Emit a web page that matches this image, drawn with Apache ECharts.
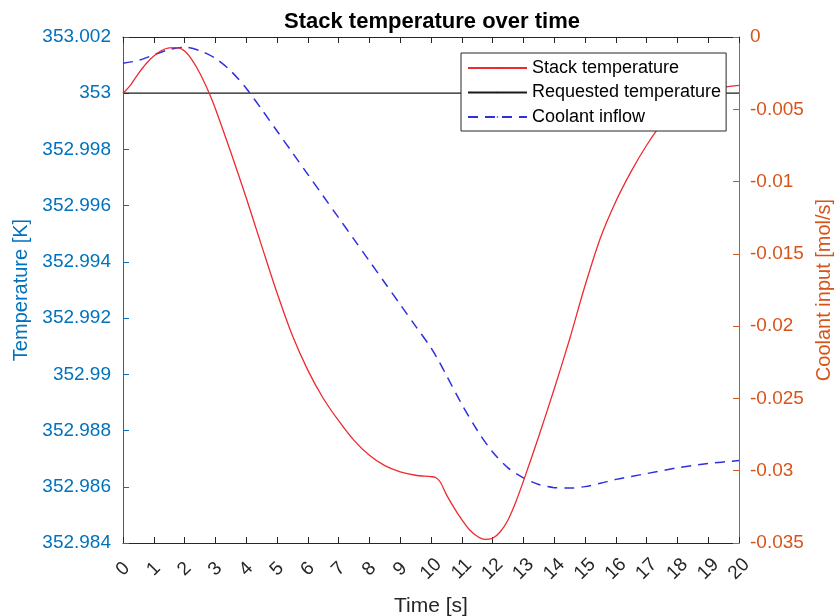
<!DOCTYPE html>
<html>
<head>
<meta charset="utf-8">
<script src="https://cdn.jsdelivr.net/npm/echarts@6/dist/echarts.min.js"></script>
<style>html,body{margin:0;padding:0;background:#fff;}#chart{width:840px;height:616px;}</style>
</head>
<body>
<div id="chart"></div>
<script>
// Time axis ticks
const xTicks = [0,1,2,3,4,5,6,7,8,9,10,11,12,13,14,15,16,17,18,19,20];

// Stack temperature [K]
const stackTime = [0,0.25,0.5,0.75,1,1.25,1.5,1.75,2,2.25,2.5,2.8,3,3.5,4,4.5,5,5.5,6,6.5,7,7.5,8,8.5,9,9.5,10,10.15,10.3,10.5,10.75,11,11.25,11.5,11.75,12,12.25,12.5,12.75,13,13.5,14,14.5,15,15.5,16,16.5,17,17.5,18,18.5,19,19.5,20];
const stackTemp = [353.0,353.0003,353.0007,353.00105,353.00132,353.00152,353.00161,353.00162,353.0015,353.00117,353.0007,353.0,352.99945,352.9979,352.99628,352.99458,352.9929,352.99138,352.99015,352.98915,352.98835,352.98765,352.98712,352.98675,352.98653,352.98641,352.98636,352.98633,352.98617,352.98572,352.98525,352.98483,352.98447,352.98424,352.98413,352.98417,352.9844,352.98482,352.98545,352.9862,352.9878,352.98948,352.99125,352.99315,352.99485,352.99615,352.99722,352.99815,352.99893,352.9995,352.99988,353.0001,353.00021,353.00028];

// Requested temperature [K]
const reqTime = [0,20];
const reqTemp = [353,353];

// Coolant inflow [mol/s]
const coolTime = [0,0.5,1,1.5,2,2.5,3,3.5,4,4.5,5,5.5,6,6.5,7,7.5,8,8.5,9,9.5,10,10.25,10.5,11,11.5,12,12.5,13,13.5,14,14.5,15,15.5,16,17,18,19,20];
const coolFlow = [-0.00182,-0.00162,-0.00124,-0.00087,-0.00071,-0.00095,-0.00148,-0.00235,-0.00355,-0.005,-0.0065,-0.008,-0.0095,-0.011,-0.0125,-0.014,-0.0155,-0.017,-0.0185,-0.02,-0.0215,-0.0224,-0.0234,-0.0254,-0.0272,-0.0287,-0.0298,-0.0305,-0.03095,-0.03117,-0.0312,-0.0311,-0.03087,-0.0306,-0.0302,-0.0298,-0.0295,-0.0293];

const FONT = '"Liberation Sans", Arial, Helvetica, sans-serif';
const BLUE = '#0072BD', ORANGE = '#D95319', DARK = '#262626';

const zip = (a, b) => a.map((v, i) => [v, b[i]]);
const fmt = v => String(parseFloat(Number(v).toFixed(4)));

const chart = echarts.init(document.getElementById('chart'), null, {renderer: 'canvas'});
chart.setOption({
  animation: false,
  backgroundColor: '#fff',
  textStyle: {fontFamily: FONT},
  title: {
    text: 'Stack temperature over time',
    left: 427, top: 6, textAlign: 'center',
    textStyle: {fontFamily: FONT, fontSize: 22, fontWeight: 'bold', color: '#000'}
  },
  grid: {left: 123, right: 101, top: 37, bottom: 73, containLabel: false, outerBoundsMode: 'none'},
  legend: {
    orient: 'vertical',
    left: 461, top: 53,
    padding: [6, 5, 5, 6],
    itemGap: 6.5,
    itemWidth: 59, itemHeight: 2,
    itemTextGap: 5,
    backgroundColor: '#fff',
    borderColor: DARK, borderWidth: 1, borderRadius: 0,
    textStyle: {fontFamily: FONT, fontSize: 18, color: '#000'},
    data: ['Stack temperature', 'Requested temperature', 'Coolant inflow']
  },
  xAxis: [{
    type: 'value', min: 0, max: 20, interval: 1,
    name: 'Time [s]', nameLocation: 'middle', nameGap: 53,
    nameTextStyle: {fontFamily: FONT, fontSize: 21, color: DARK},
    axisLine: {onZero: false, lineStyle: {color: DARK, width: 1}},
    axisTick: {inside: true, length: 6, lineStyle: {color: DARK}},
    axisLabel: {rotate: 45, margin: 26, align: 'center', verticalAlign: 'middle',
      fontFamily: FONT, fontSize: 19, color: DARK, formatter: v => String(v)},
    splitLine: {show: false}
  }, {
    type: 'value', min: 0, max: 20, interval: 1, position: 'top',
    axisLine: {show: true, onZero: false, lineStyle: {color: DARK, width: 1}},
    axisTick: {show: true, inside: true, length: 6, lineStyle: {color: DARK}},
    axisLabel: {show: false},
    splitLine: {show: false}
  }],
  yAxis: [{
    type: 'value', position: 'left', min: 352.984, max: 353.002, interval: 0.002,
    name: 'Temperature [K]', nameLocation: 'middle', nameGap: 83, nameRotate: 90,
    nameTextStyle: {fontFamily: FONT, fontSize: 20, color: BLUE},
    axisLine: {show: true, onZero: false, lineStyle: {color: BLUE, width: 1}},
    axisTick: {show: true, inside: true, length: 6, lineStyle: {color: BLUE}},
    axisLabel: {fontFamily: FONT, fontSize: 19, color: BLUE, margin: 12, formatter: fmt},
    splitLine: {show: false}
  }, {
    type: 'value', position: 'right', min: -0.035, max: 0, interval: 0.005,
    name: 'Coolant input [mol/s]', nameLocation: 'middle', nameGap: 61, nameRotate: 90,
    nameTextStyle: {fontFamily: FONT, fontSize: 20, color: ORANGE},
    axisLine: {show: true, onZero: false, lineStyle: {color: ORANGE, width: 1}},
    axisTick: {show: true, inside: true, length: 6, lineStyle: {color: ORANGE}},
    axisLabel: {fontFamily: FONT, fontSize: 19, color: ORANGE, margin: 11, formatter: fmt},
    splitLine: {show: false}
  }],
  series: [{
    name: 'Stack temperature', type: 'line', xAxisIndex: 0, yAxisIndex: 0,
    data: zip(stackTime, stackTemp), smooth: 0.3, showSymbol: false, symbol: 'none',
    lineStyle: {color: '#EE2A30', width: 1.3}, itemStyle: {color: '#EE2A30'}, z: 3
  }, {
    name: 'Requested temperature', type: 'line', xAxisIndex: 0, yAxisIndex: 0,
    data: zip(reqTime, reqTemp), showSymbol: false, symbol: 'none',
    lineStyle: {color: '#1a1a1a', width: 1.2}, itemStyle: {color: '#1a1a1a'}, z: 2
  }, {
    name: 'Coolant inflow', type: 'line', xAxisIndex: 0, yAxisIndex: 1,
    data: zip(coolTime, coolFlow), smooth: 0.3, showSymbol: false, symbol: 'none',
    lineStyle: {color: '#2F2FE0', width: 1.5, type: [10, 7]}, itemStyle: {color: '#2F2FE0'}, z: 2
  }]
});
</script>
</body>
</html>
